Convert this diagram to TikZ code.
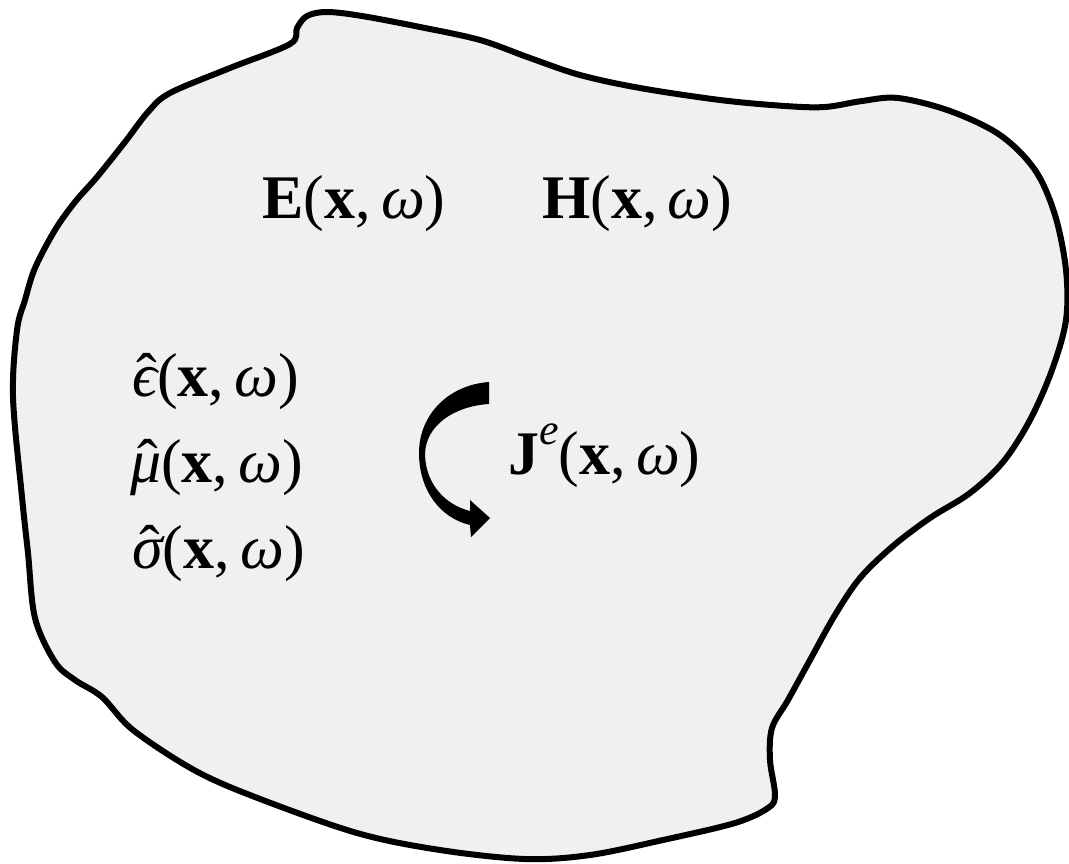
\documentclass[tikz,border=0pt]{standalone}
\usepackage{amsmath}
\usepackage{fontspec}
\setmainfont{Liberation Serif}
\usepackage{xcolor}
\usepackage{tikz}
\usetikzlibrary{positioning}
\definecolor{regionfill}{RGB}{240,240,240}

\newcommand{\argxw}{(\textbf{x},\,\textit{ω})}
\newcommand{\hatit}[1]{\setbox0\hbox{\itshape #1}\rlap{\hbox to\wd0{\hss\kern0.08em ˆ\hss}}\box0}

\tikzset{
  fieldlbl/.style={anchor=base west,inner sep=0pt,font=\fontsize{62}{70}\selectfont},
}

\begin{document}
\begin{tikzpicture}[x=1pt,y=-1pt,line join=round]
  \useasboundingbox (0,0) rectangle (1069,863);
  % the region
  \draw[line width=6pt,fill=regionfill] plot[smooth cycle,tension=0.55] coordinates {
    (290,44) (297,28) (307,16) (327,12) (362,16) (420,27) (480,40) (530,58) (580,75) (640,88)
    (720,100) (785,106) (825,107) (862,101) (898,98) (950,111) (1000,135) (1035,170)
    (1055,215) (1066,270) (1066,320) (1052,370) (1030,420) (1003,462) (970,493) (930,518)
    (893,546) (860,578) (835,615) (810,660) (788,700) (772,728) (770,760) (775,795)
    (768,808) (735,823) (663,840) (590,855) (525,859) (440,850) (357,833) (255,797)
    (194,770) (133,730) (102,697) (75,680) (55,662) (35,618) (28,553) (22,497) (13,397)
    (17,330) (25,300) (35,268) (55,230) (75,202) (97,177) (125,142) (148,112) (170,93)
    (230,68)
  };
  % labels
  \node[fieldlbl] (efield) at (262,218) {\textbf{E}\argxw};
  \node[fieldlbl] (hfield) at (542,218) {\textbf{H}\argxw};
  \node[fieldlbl] (eps) at (132,396) {\hatit{ϵ}\argxw};
  \node[fieldlbl] (mu) at (130,482) {\hatit{μ}\argxw};
  \node[fieldlbl] (sig) at (132,568) {\hatit{σ}\argxw};
  \node[fieldlbl] (src) at (508,474) {\textbf{J}\raisebox{30pt}{\fontsize{44}{44}\selectfont\itshape e}\argxw};
  % curved arrow
  \fill (489,382) .. controls (448,385) and (419,415) .. (419,453)
    .. controls (419,490) and (440,518) .. (470,525) -- (471,537) -- (490,518) -- (470,500) -- (470,511)
    .. controls (446,505) and (426,485) .. (425,455)
    .. controls (425,425) and (455,406) .. (489,404) -- cycle;
\end{tikzpicture}
\end{document}
